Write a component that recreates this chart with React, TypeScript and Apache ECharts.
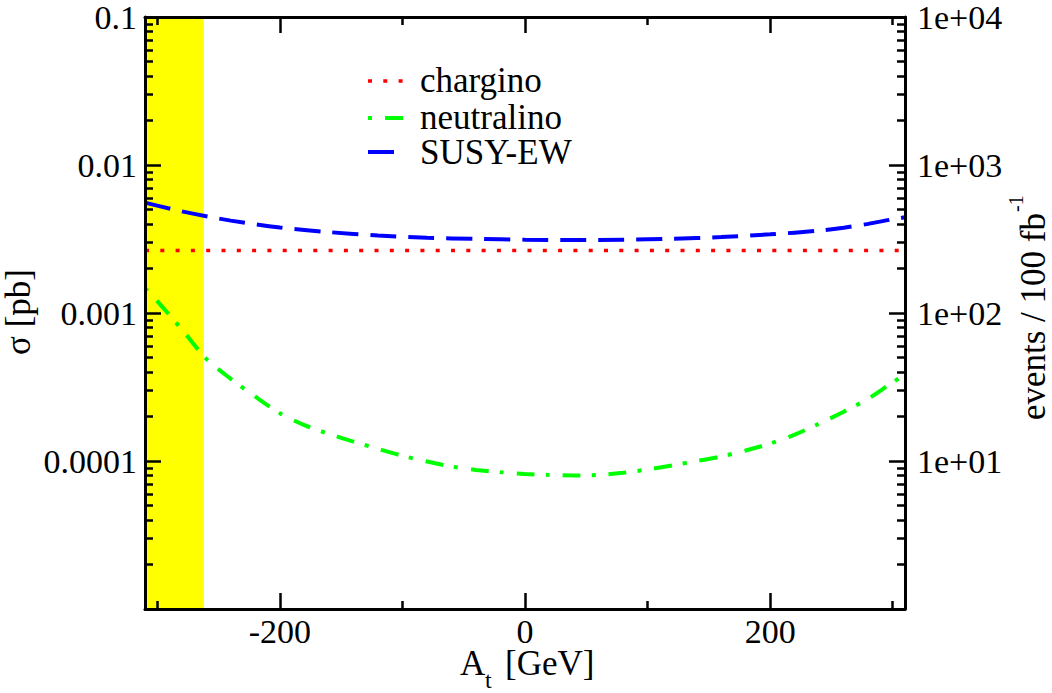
import React, { useEffect, useRef } from 'react';
import * as echarts from 'echarts';

// ---- data ----
const X_MIN = -310;
const X_MAX = 310;

const susyX = [-310, -280, -240, -200, -160, -120, -80, -40, 0, 40, 80, 120, 160, 200, 240, 260, 280, 300, 310];
const susyEW = [0.00557, 0.00486, 0.00421, 0.00378, 0.00352, 0.00334, 0.00322, 0.00317, 0.00313, 0.00311, 0.00313, 0.00317, 0.00326, 0.0034, 0.0036, 0.00377, 0.004, 0.0043, 0.00443];

const charginoX = [-310, 310];
const chargino = [0.00264, 0.00264];

const neutX = [-310, -300, -280, -260, -240, -220, -200, -180, -160, -140, -120, -100, -80, -60, -40, -20, 0, 20, 40, 60, 80, 100, 120, 140, 160, 180, 200, 220, 240, 260, 280, 300, 310];
const neutralino = [0.001473, 0.001204, 0.000774, 0.00049, 0.000359, 0.000272, 0.0002105, 0.0001748, 0.0001525, 0.0001353, 0.0001208, 0.0001084, 0.0000992, 0.0000918, 0.000087, 0.0000841, 0.0000818, 0.0000805, 0.0000799, 0.0000805, 0.0000833, 0.0000877, 0.0000933, 0.0001, 0.0001072, 0.0001177, 0.0001312, 0.0001508, 0.0001789, 0.0002154, 0.0002636, 0.0003404, 0.0003825];

const excludedBand = [-310, -262];

const xMajorTicks = [-200, 0, 200];
const xMinorTicks = [-300, -100, 100, 300];
const yLeftTickValues = [0.1, 0.01, 0.001, 0.0001];
const yLeftTickLabels = ['0.1', '0.01', '0.001', '0.0001'];
const yRightTickValues = [10000, 1000, 100, 10];
const yRightTickLabels = ['1e+04', '1e+03', '1e+02', '1e+01'];

const legendNames = ['chargino', 'neutralino', 'SUSY-EW'];

const FONT = 'Liberation Serif';
const BLACK = '#000000';
const RED = '#ff0000';
const GREEN = '#00ff00';
const BLUE = '#0000ff';

const DOT = [4, 11.3];
const DASHDOT = [4, 13, 18, 11];
const DASH = [26, 12];

function lookupLabel(values: number[], labels: string[]) {
  return (v: number) => {
    for (let i = 0; i < values.length; i++) {
      if (Math.abs(Math.log10(v) - Math.log10(values[i])) < 1e-6) return labels[i];
    }
    return '';
  };
}

export default function App() {
  const ref = useRef<HTMLDivElement>(null);

  useEffect(() => {
    if (!ref.current) return;
    const chart = echarts.init(ref.current, null, { renderer: 'svg' });

    const axisLine = { show: true, onZero: false, lineStyle: { color: BLACK, width: 3 } };
    const majorTick = (custom?: number[]) => ({
      show: true,
      inside: true,
      length: 16,
      lineStyle: { color: BLACK, width: 2.5 },
      ...(custom ? { customValues: custom } : {}),
    });
    const minorTickX = { show: true, inside: true, length: 8, lineStyle: { color: BLACK, width: 2.5 }, customValues: xMinorTicks };
    const labelStyle = { fontSize: 34, fontFamily: FONT, color: BLACK };
    const txt = (size: number) => ({ fontSize: size, fontFamily: FONT, fill: BLACK });

    const xBase = { type: 'value', min: X_MIN, max: X_MAX, z: 10, splitLine: { show: false } };

    const option: any = {
      animation: false,
      backgroundColor: '#ffffff',
      textStyle: { fontFamily: FONT },
      grid: { left: 145, right: 147, top: 15, bottom: 84, containLabel: false },
      xAxis: [
        {
          ...xBase,
          position: 'bottom',
          axisLine,
          axisTick: majorTick(xMajorTicks),
          axisLabel: { show: true, customValues: xMajorTicks, margin: 5, ...labelStyle, formatter: (v: number) => String(v) },
        },
        {
          ...xBase,
          position: 'bottom',
          axisLine: { show: false },
          axisTick: minorTickX,
          axisLabel: { show: false },
        },
        {
          ...xBase,
          position: 'top',
          axisLine,
          axisTick: majorTick(xMajorTicks),
          axisLabel: { show: false },
        },
        {
          ...xBase,
          position: 'top',
          axisLine: { show: false },
          axisTick: minorTickX,
          axisLabel: { show: false },
        },
      ],
      yAxis: [
        {
          type: 'log',
          logBase: 10,
          min: 1e-5,
          max: 0.1,
          position: 'left',
          z: 10,
          axisLine,
          axisTick: majorTick(),
          minorTick: { show: true, splitNumber: 9, length: 8, lineStyle: { color: BLACK, width: 2.5 } },
          splitLine: { show: false },
          minorSplitLine: { show: false },
          axisLabel: { margin: 8, showMinLabel: false, ...labelStyle, formatter: lookupLabel(yLeftTickValues, yLeftTickLabels) },
        },
        {
          type: 'log',
          logBase: 10,
          min: 1,
          max: 10000,
          position: 'right',
          z: 10,
          axisLine,
          axisTick: majorTick(),
          minorTick: { show: true, splitNumber: 9, length: 8, lineStyle: { color: BLACK, width: 2.5 } },
          splitLine: { show: false },
          minorSplitLine: { show: false },
          axisLabel: { margin: 12, showMinLabel: false, ...labelStyle, formatter: lookupLabel(yRightTickValues, yRightTickLabels) },
        },
      ],
      series: [
        {
          name: legendNames[0],
          type: 'line',
          xAxisIndex: 0,
          yAxisIndex: 0,
          data: charginoX.map((x, i) => [x, chargino[i]]),
          symbol: 'none',
          z: 3,
          lineStyle: { color: RED, width: 3.5, type: DOT },
          markArea: {
            silent: true,
            itemStyle: { color: '#ffff00', opacity: 1 },
            label: { show: false },
            data: [[{ xAxis: excludedBand[0] }, { xAxis: excludedBand[1] }]],
          },
        },
        {
          name: legendNames[1],
          type: 'line',
          xAxisIndex: 0,
          yAxisIndex: 0,
          data: neutX.map((x, i) => [x, neutralino[i]]),
          symbol: 'none',
          smooth: 0.3,
          z: 4,
          lineStyle: { color: GREEN, width: 4, type: DASHDOT },
        },
        {
          name: legendNames[2],
          type: 'line',
          xAxisIndex: 0,
          yAxisIndex: 0,
          data: susyX.map((x, i) => [x, susyEW[i]]),
          symbol: 'none',
          smooth: 0.3,
          z: 4,
          lineStyle: { color: BLUE, width: 4, type: DASH },
        },
      ],
      graphic: [
        // legend
        { type: 'line', shape: { x1: 368, y1: 81, x2: 403, y2: 81 }, style: { stroke: RED, lineWidth: 3.5, lineDash: DOT }, z: 20 },
        { type: 'line', shape: { x1: 368, y1: 118, x2: 403, y2: 118 }, style: { stroke: GREEN, lineWidth: 4, lineDash: DASHDOT }, z: 20 },
        { type: 'line', shape: { x1: 368, y1: 152, x2: 403, y2: 152 }, style: { stroke: BLUE, lineWidth: 4, lineDash: DASH }, z: 20 },
        { type: 'text', x: 420, y: 80, z: 20, style: { text: legendNames[0], ...txt(35), lineHeight: 30, align: 'left', verticalAlign: 'middle' } },
        { type: 'text', x: 420, y: 117, z: 20, style: { text: legendNames[1], ...txt(35), lineHeight: 30, align: 'left', verticalAlign: 'middle' } },
        { type: 'text', x: 420, y: 152, z: 20, style: { text: legendNames[2], ...txt(35), lineHeight: 30, align: 'left', verticalAlign: 'middle' } },
        // x axis title  A_t [GeV]
        { type: 'text', x: 460, y: 663, z: 20, style: { text: 'A', ...txt(35), align: 'left', verticalAlign: 'middle' } },
        { type: 'text', x: 485, y: 680, z: 20, style: { text: 't', ...txt(24), align: 'left', verticalAlign: 'middle' } },
        { type: 'text', x: 505, y: 663, z: 20, style: { text: '[GeV]', ...txt(35), align: 'left', verticalAlign: 'middle' } },
        // left y title
        {
          type: 'text', x: 18, y: 312, rotation: Math.PI / 2, z: 20,
          style: { text: 'σ [pb]', ...txt(35), align: 'center', verticalAlign: 'middle' },
        },
        // right y title
        {
          type: 'group', x: 1033, y: 213, rotation: Math.PI / 2, z: 20,
          children: [
            { type: 'text', x: 0, y: 0, style: { text: 'events / 100 fb', ...txt(35), lineHeight: 30, align: 'right', verticalAlign: 'middle' } },
            { type: 'text', x: 1, y: -17, style: { text: '-1', ...txt(20), align: 'left', verticalAlign: 'middle' } },
          ],
        },
      ],
    };

    chart.setOption(option);
    return () => chart.dispose();
  }, []);

  return <div ref={ref} style={{ position: 'fixed', left: 0, top: 0, width: 1052, height: 693, background: '#fff' }} />;
}
